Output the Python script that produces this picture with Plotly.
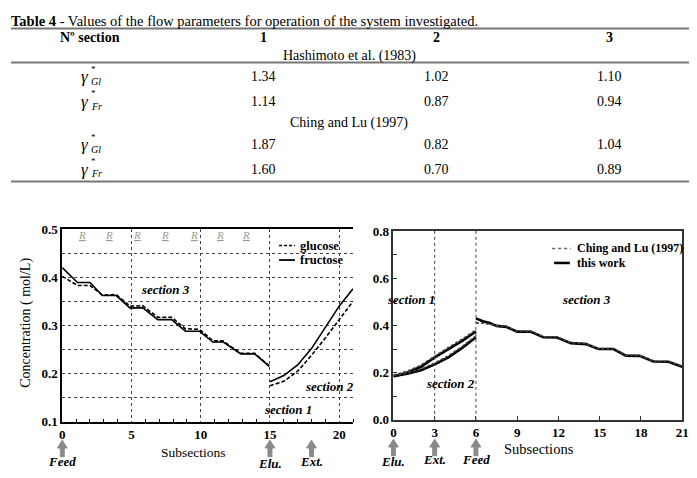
import plotly.graph_objects as go

W, H = 697, 478
SERIF = "Liberation Serif"


def PX(x):
    return x / W


def PY(y):
    return 1 - y / H


# ---------------- table data ----------------
table_title_bold = "Table 4"
table_title_rest = " - Values of the flow parameters for operation of the system investigated."
header_label = "Nº section"
section_labels = ["1", "2", "3"]
group_names = ["Hashimoto et al. (1983)", "Ching and Lu (1997)"]
param_names = ["Gl", "Fr"]
hashimoto_gl = ["1.34", "1.02", "1.10"]
hashimoto_fr = ["1.14", "0.87", "0.94"]
ching_gl = ["1.87", "0.82", "1.04"]
ching_fr = ["1.60", "0.70", "0.89"]

# ---------------- left chart data ----------------
left_x1 = [0, 1.1, 2.0, 2.9, 3.9, 4.9, 5.8, 6.9, 7.9, 8.9, 9.9, 10.9, 11.6, 12.9, 13.9, 14.95]
fructose_y1 = [0.420, 0.389, 0.389, 0.362, 0.362, 0.336, 0.337, 0.312, 0.312, 0.288, 0.288,
               0.265, 0.266, 0.241, 0.241, 0.215]
glucose_y1 = [0.402, 0.383, 0.383, 0.363, 0.364, 0.340, 0.341, 0.317, 0.317, 0.293, 0.292,
              0.268, 0.268, 0.242, 0.242, 0.216]
left_x2 = [15, 16, 17, 18, 19, 20, 21]
fructose_y2 = [0.183, 0.196, 0.218, 0.252, 0.296, 0.340, 0.376]
glucose_y2 = [0.175, 0.184, 0.205, 0.238, 0.274, 0.313, 0.350]
r_positions = [1.4, 3.4, 5.4, 7.4, 9.5, 11.4, 13.3]
left_arrows = [(0, "Feed"), (15, "Elu."), (18, "Ext.")]

# ---------------- right chart data ----------------
right_x1 = [0, 1, 2, 3, 4, 5, 6]
this_upper_y1 = [0.185, 0.200, 0.225, 0.265, 0.300, 0.335, 0.375]
this_lower_y1 = [0.185, 0.195, 0.210, 0.235, 0.265, 0.305, 0.350]
ching_upper_y1 = [0.190, 0.206, 0.232, 0.271, 0.307, 0.342, 0.381]
ching_lower_y1 = [0.188, 0.199, 0.215, 0.241, 0.272, 0.311, 0.356]
right_x2 = [6, 6.5, 7.0, 7.5, 8.2, 9.0, 10.0, 10.9, 11.9, 12.9, 14.0, 14.9, 16.0, 16.9,
            17.9, 18.9, 20.0, 21.0]
this_y2 = [0.430, 0.418, 0.410, 0.398, 0.394, 0.374, 0.373, 0.350, 0.349, 0.325, 0.321,
           0.300, 0.300, 0.272, 0.271, 0.247, 0.246, 0.225]
ching_y2 = [0.410, 0.410, 0.405, 0.399, 0.396, 0.376, 0.375, 0.352, 0.351, 0.327, 0.323,
            0.302, 0.302, 0.274, 0.273, 0.249, 0.248, 0.227]
right_arrows = [(0, "Elu."), (3, "Ext."), (6, "Feed")]

X_RANGE = (0, 21)

fig = go.Figure()

# ---- left traces
for xs, ys, dash in [(left_x1, glucose_y1, "4px,2px"), (left_x2, glucose_y2, "4px,2px"),
                     (left_x1, fructose_y1, "solid"), (left_x2, fructose_y2, "solid")]:
    fig.add_trace(go.Scatter(x=xs, y=ys, mode="lines", xaxis="x", yaxis="y",
                             line=dict(color="black", width=1.6, dash=dash),
                             showlegend=False, hoverinfo="skip"))

# ---- right traces
for xs, ys in [(right_x1, this_upper_y1), (right_x1, this_lower_y1), (right_x2, this_y2)]:
    fig.add_trace(go.Scatter(x=xs, y=ys, mode="lines", xaxis="x2", yaxis="y2",
                             line=dict(color="black", width=2.6),
                             showlegend=False, hoverinfo="skip"))
for xs, ys in [(right_x1, ching_upper_y1), (right_x1, ching_lower_y1), (right_x2, ching_y2)]:
    fig.add_trace(go.Scatter(x=xs, y=ys, mode="lines", xaxis="x2", yaxis="y2",
                             line=dict(color="#444", width=1.6, dash="3px,2px"),
                             showlegend=False, hoverinfo="skip"))

tickfont = dict(family=SERIF, size=13, color="black")

LEFT_DOM = (52, 347)
RIGHT_DOM = (388, 681)

fig.update_layout(
    width=W, height=H, margin=dict(l=0, r=0, t=0, b=0),
    paper_bgcolor="white", plot_bgcolor="white", showlegend=False,
    xaxis=dict(domain=[PX(LEFT_DOM[0]), PX(LEFT_DOM[1])], range=list(X_RANGE),
               tickmode="linear", tick0=0, dtick=5,
               showgrid=True, gridcolor="#444", griddash="dot", gridwidth=1,
               showline=True, linecolor="black", linewidth=2, mirror=True,
               ticks="", tickfont=tickfont, zeroline=False, tickprefix="<b>", ticksuffix="</b>",
               minor=dict(dtick=1, ticks="inside", ticklen=3, tickcolor="black", showgrid=False)),
    yaxis=dict(domain=[PY(420), PY(221)], range=[0.1, 0.5], tickmode="linear", tick0=0.1,
               dtick=0.1, tickformat=".1f",
               showgrid=True, gridcolor="#444", griddash="dot", gridwidth=1,
               showline=True, linecolor="black", linewidth=2, mirror=False,
               ticks="", tickfont=tickfont, zeroline=False, tickprefix="<b>", ticksuffix="</b>",
               minor=dict(dtick=0.05, showgrid=True, gridcolor="#444", griddash="dot",
                          gridwidth=1)),
    xaxis2=dict(domain=[PX(RIGHT_DOM[0]), PX(RIGHT_DOM[1])], range=list(X_RANGE),
                tickmode="linear", tick0=0, dtick=3,
                anchor="y2", showgrid=False, showline=True, linecolor="#333", linewidth=1.5,
                mirror=True, ticks="inside", ticklen=4, tickcolor="#333",
                tickfont=tickfont, zeroline=False, tickprefix="<b>", ticksuffix="</b>"),
    yaxis2=dict(domain=[PY(418), PY(223)], range=[0, 0.8], tickmode="linear", tick0=0,
                dtick=0.2, tickformat=".1f", anchor="x2", showgrid=False,
                showline=True, linecolor="#333", linewidth=1.5, mirror=True,
                ticks="inside", ticklen=4, tickcolor="#333",
                tickfont=tickfont, zeroline=False, tickprefix="<b>", ticksuffix="</b>",
                minor=dict(dtick=0.1, ticks="inside", ticklen=4, tickcolor="#333")),
)

ann = []
shapes = []


def text(x, y, s, size=14, bold=False, italic=False, anchor="center", color="black",
         xref="paper", yref="paper", angle=0):
    if bold:
        s = "<b>" + s + "</b>"
    if italic:
        s = "<i>" + s + "</i>"
    ann.append(dict(x=x, y=y, xref=xref, yref=yref, text=s, showarrow=False,
                    xanchor=anchor, yanchor="middle", textangle=angle,
                    font=dict(family=SERIF, size=size, color=color)))


def arrow(xval, dom, tip_py):
    # upward block arrow below the axis at data position xval (converted via the axis domain)
    px = dom[0] + (xval - X_RANGE[0]) * (dom[1] - dom[0]) / (X_RANGE[1] - X_RANGE[0])
    tip = PY(tip_py)
    hb = PY(tip_py + 8)
    bot = PY(tip_py + 17)
    path = (f"M {PX(px)},{tip} L {PX(px + 5)},{hb} L {PX(px + 2)},{hb} L {PX(px + 2)},{bot} "
            f"L {PX(px - 2)},{bot} L {PX(px - 2)},{hb} L {PX(px - 5)},{hb} Z")
    shapes.append(dict(type="path", xref="paper", yref="paper", path=path,
                       fillcolor="#8a8a8a", line=dict(color="#8a8a8a", width=1)))


# ---------------- table ----------------
text(PX(-2), PY(6), "<b>" + table_title_bold + "</b>" + table_title_rest, size=14.5,
     anchor="left")
for py in [14, 49, 172]:
    shapes.append(dict(type="line", xref="paper", yref="paper", x0=0, x1=PX(694),
                       y0=PY(py), y1=PY(py), line=dict(color="#777", width=2)))
col_x = [256, 432, 607]
text(PX(80), PY(23), header_label, bold=True)
for cx, lab in zip(col_x, section_labels):
    text(PX(cx), PY(23), lab, bold=True)
text(PX(343), PY(42), group_names[0])
text(PX(343), PY(111), group_names[1])
rows = [(64, param_names[0], hashimoto_gl), (89, param_names[1], hashimoto_fr),
        (134, param_names[0], ching_gl), (159, param_names[1], ching_fr)]
for py, pname, vals in rows:
    text(PX(81), PY(py), "γ", size=17, italic=True, anchor="right")
    text(PX(79), PY(py - 8), "*", size=9, anchor="left")
    text(PX(79), PY(py + 5), pname, size=10, italic=True, anchor="left")
    for cx, v in zip(col_x, vals):
        text(PX(cx), PY(py), v)

# ---------------- left chart annotations ----------------
for rx in r_positions:
    text(rx, 0.488, "<u>R</u>", size=11, italic=True, color="#999", xref="x", yref="y")
text(7.47, 0.375, "section 3", size=13, bold=True, italic=True, xref="x", yref="y")
text(19.3, 0.174, "section 2", size=13, bold=True, italic=True, xref="x", yref="y")
text(16.3, 0.126, "section 1", size=13, bold=True, italic=True, xref="x", yref="y")
text(PX(15), PY(318), "Concentration ( mol/L)", size=14, angle=-90)
text(PX(185), PY(452), "Subsections", size=13.5)
# legend
shapes.append(dict(type="line", xref="paper", yref="paper", x0=PX(272), x1=PX(288),
                   y0=PY(238), y1=PY(238), line=dict(color="black", width=1.6, dash="3px,2px")))
shapes.append(dict(type="line", xref="paper", yref="paper", x0=PX(272), x1=PX(288),
                   y0=PY(253), y1=PY(253), line=dict(color="black", width=1.8)))
text(PX(291), PY(238), "glucose", size=12.5, bold=True, anchor="left")
text(PX(291), PY(253), "fructose", size=12.5, bold=True, anchor="left")

for ax_x, lab in left_arrows:
    arrow(ax_x, LEFT_DOM, 439)
    text(ax_x, PY(463 if lab == "Elu." else 461), lab, size=13, bold=True, italic=True,
         xref="x")

# ---------------- right chart annotations ----------------
for vx in [3, 6]:
    shapes.append(dict(type="line", xref="x2", yref="y2 domain", x0=vx, x1=vx, y0=0, y1=1,
                       line=dict(color="#444", width=1, dash="dot")))
text(1.3, 0.509, "section 1", size=13, bold=True, italic=True, xref="x2", yref="y2")
text(14.05, 0.509, "section 3", size=13, bold=True, italic=True, xref="x2", yref="y2")
text(4.16, 0.152, "section 2", size=13, bold=True, italic=True, xref="x2", yref="y2")
text(PX(536), PY(448), "Subsections", size=14.5)
shapes.append(dict(type="line", xref="paper", yref="paper", x0=PX(549), x1=PX(568),
                   y0=PY(241), y1=PY(241), line=dict(color="#666", width=1.5, dash="3px,3px")))
shapes.append(dict(type="line", xref="paper", yref="paper", x0=PX(551), x1=PX(567),
                   y0=PY(256), y1=PY(256), line=dict(color="black", width=2.5)))
text(PX(572), PY(241), "Ching and Lu (1997)", size=12, bold=True, anchor="left")
text(PX(572), PY(256), "this work", size=12, bold=True, anchor="left")

for ax_x, lab in right_arrows:
    arrow(ax_x, RIGHT_DOM, 438)
    text(ax_x, PY(461 if lab == "Elu." else 459), lab, size=13, bold=True, italic=True,
         xref="x2")

fig.update_layout(annotations=ann, shapes=shapes)
fig.write_html("out.html")
